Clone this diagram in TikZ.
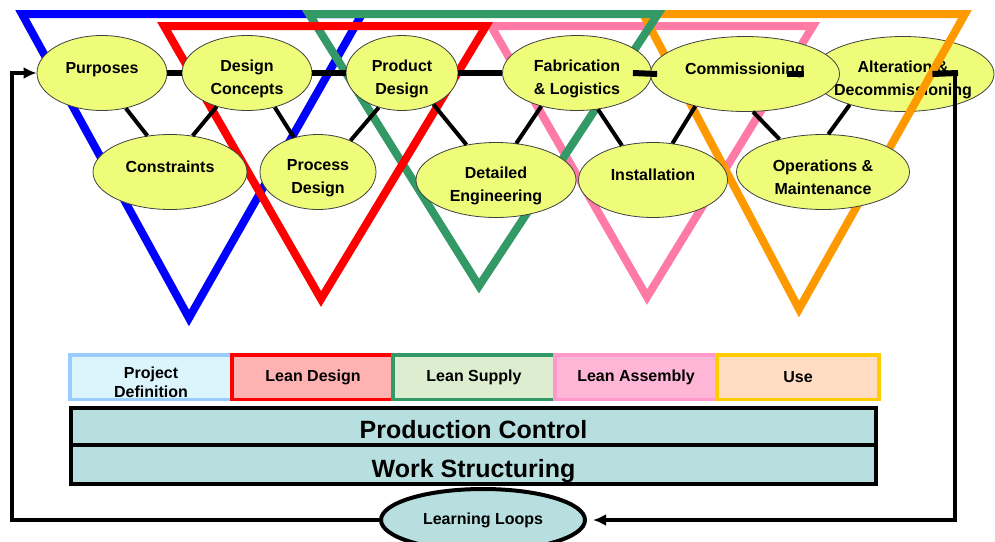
\documentclass[tikz,border=0pt]{standalone}
\usepackage{fontspec}
\setmainfont{Liberation Sans}
\usetikzlibrary{arrows.meta}
\usetikzlibrary{shapes.geometric}
\definecolor{lemon}{RGB}{238,252,122}
\definecolor{paleteal}{RGB}{184,223,224}
\definecolor{triblue}{RGB}{0,0,255}
\definecolor{trired}{RGB}{255,0,0}
\definecolor{trigreen}{RGB}{51,153,102}
\definecolor{tripink}{RGB}{255,122,165}
\definecolor{triorange}{RGB}{255,153,0}
\definecolor{pdline}{RGB}{153,204,255}
\definecolor{pdfill}{RGB}{220,245,253}
\definecolor{ldfill}{RGB}{255,178,178}
\definecolor{lsfill}{RGB}{220,237,208}
\definecolor{lapink}{RGB}{255,153,204}
\definecolor{lafill}{RGB}{255,182,214}
\definecolor{usegold}{RGB}{255,204,0}
\definecolor{usefill}{RGB}{255,220,194}

\begin{document}
\begin{tikzpicture}[x=1pt,y=-1pt,line join=miter,
  tri/.style={line width=8pt},
  phase/.style={ellipse,draw=black!75,line width=0.8pt,fill=lemon,inner sep=0pt,
    minimum height=75pt,align=center,font=\bfseries\fontsize{16}{23}\selectfont,
    execute at begin node={\rule{0pt}{46pt}}},
  link/.style={line width=4pt},
  bar/.style={line width=6pt},
  stagebox/.style={rectangle,line width=3.5pt,minimum width=162pt,minimum height=44.5pt,
    inner sep=0pt,align=center,font=\bfseries\fontsize{16}{19}\selectfont},
  basebox/.style={rectangle,draw=black,line width=3.5pt,fill=paleteal,minimum width=805pt,
    inner sep=0pt,text height=25pt,text depth=0pt,font=\bfseries\fontsize{25}{30}\selectfont},
  loopline/.style={line width=3.5pt,-{Latex[length=13pt,width=12pt]}}]
\useasboundingbox (0,0) rectangle (995,541);

% the last phase sits under the orange frame
\node[phase,minimum width=182pt,inner xsep=-30pt] (alt) at (903,74) {Alteration \&\\Decommissioning};

\draw[tri,triblue] (22,14) -- (362,14) -- (189,318) -- cycle;
\draw[tri,tripink] (491,26) -- (813,26) -- (647,297) -- cycle;
\draw[tri,triorange] (643,14) -- (965,14) -- (799,309) -- cycle;
\draw[tri,trigreen] (309,14) -- (658,14) -- (479,286) -- cycle;
\draw[tri,trired] (164,26) -- (486,26) -- (321,299) -- cycle;

\node[phase,minimum width=130pt] (pur) at (102,73) {Purposes\\~};
\node[phase,minimum width=130pt] (dc) at (247,73) {Design\\Concepts};
\node[phase,minimum width=154pt] (con) at (170,172) {Constraints\\~};
\node[phase,minimum width=116pt] (proc) at (318,172) {Process\\Design};
\node[phase,minimum width=112pt] (prod) at (402,73) {Product\\Design};
\node[phase,minimum width=160pt] (det) at (496,180) {Detailed\\Engineering};
\node[phase,minimum width=149pt] (fab) at (577,73) {Fabrication\\\& Logistics};
\node[phase,minimum width=149pt] (inst) at (653,180) {Installation\\~};
\node[phase,minimum width=189pt] (comm) at (745,74) {Commissioning\\~};
\node[phase,minimum width=173pt] (ops) at (823,172) {Operations \&\\Maintenance};

\draw[link] (pur.-56) -- (con.122);
\draw[link] (dc.228) -- (con.58);
\draw[link] (dc.-51) -- (proc.125);
\draw[link] (prod.236) -- (proc.44);
\draw[link] (prod.-45) -- (det.130);
\draw[link] (fab.223) -- (det.61);
\draw[link] (fab.-60) -- (inst.132);
\draw[link] (comm.213) -- (inst.62);
\draw[link] (comm.-78) -- (ops.143);
\draw[link] (alt.210) -- (ops.82);

\coordinate (fbr) at (955,73);
\coordinate (fbl) at (12,520);
\draw[bar] (pur.east) -- (dc.west);
\draw[bar] (dc.east) -- (prod.west);
\draw[bar] (prod.east) -- (fab.west);
\draw[bar] ([xshift=-19pt]fab.east) -- ([xshift=7pt]comm.west);
\draw[bar] ([xshift=-53pt]comm.east) -- ([xshift=-8pt]alt.west);
\draw[bar] ([xshift=-62pt]alt.east) -- ([xshift=3pt]fbr);

\foreach \x/\txt/\bd/\fl [count=\i] in {151/{\rule{0pt}{23pt}Project\\Definition}/pdline/pdfill,
    313/Lean Design/trired/ldfill, 474/Lean Supply/trigreen/lsfill,
    636/Lean Assembly/lapink/lafill, 798/Use/usegold/usefill}
  \node[stagebox,draw=\bd,fill=\fl] (stage\i) at (\x,377) {\txt};

\node[basebox,minimum height=37.25pt] (pc) at (473.5,426.4) {Production Control};
\node[basebox,minimum height=39.25pt] (ws) at (473.5,464.6) {Work Structuring};

\node[ellipse,draw=black,line width=4pt,fill=paleteal,minimum width=204pt,minimum height=62pt,
  inner sep=0pt,font=\bfseries\fontsize{16}{19}\selectfont] (ll) at (483,520) {Learning Loops};

\draw[loopline,shorten >=6pt] (fbr) |- (ll.east);
\draw[loopline] (ll.west) -- (fbl) |- (pur.west);
\end{tikzpicture}
\end{document}
